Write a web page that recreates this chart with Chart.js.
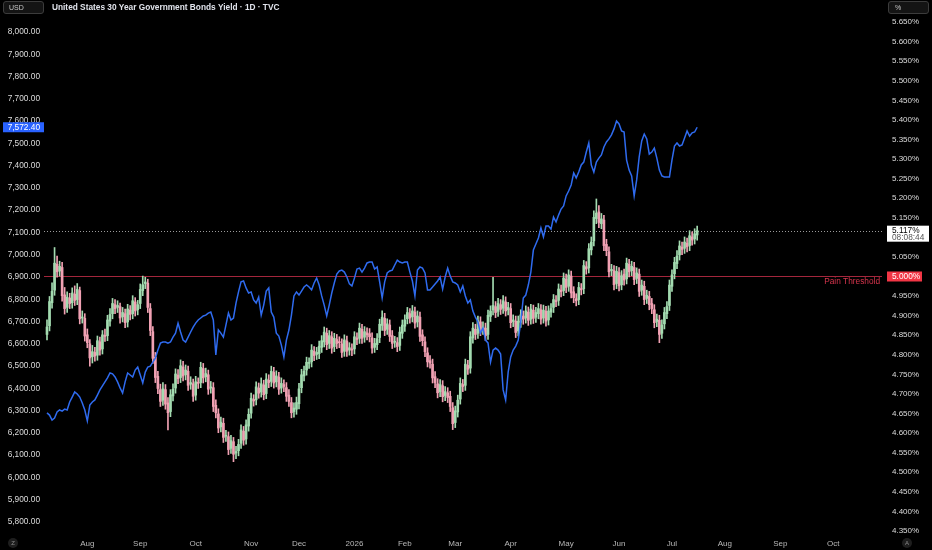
<!DOCTYPE html>
<html>
<head>
<meta charset="utf-8">
<script src="https://cdn.jsdelivr.net/npm/chart.js@4.4.1/dist/chart.umd.min.js"></script>
<style>
  html, body { margin: 0; padding: 0; background: #000; }
  #wrap { position: relative; width: 932px; height: 550px; }
  canvas { display: block; }
</style>
</head>
<body>
<div id="wrap"><canvas id="chart" width="932" height="550"></canvas></div>
<script>
// 30Y yield, daily candles (right axis, %)
const opens = [
  4.852, 4.874, 4.933, 4.965, 5.031, 5.014, 5.023, 4.953, 4.921, 4.945,
  4.933, 4.955, 4.941, 4.964, 4.894, 4.893, 4.851, 4.828, 4.795, 4.806,
  4.799, 4.833, 4.815, 4.849, 4.849, 4.886, 4.905, 4.928, 4.921, 4.923,
  4.897, 4.905, 4.884, 4.914, 4.905, 4.935, 4.915, 4.931, 4.964, 4.982,
  4.983, 4.918, 4.859, 4.794, 4.745, 4.711, 4.684, 4.711, 4.677, 4.655,
  4.695, 4.715, 4.748, 4.742, 4.769, 4.749, 4.758, 4.725, 4.726, 4.697,
  4.728, 4.729, 4.765, 4.744, 4.749, 4.715, 4.716, 4.671, 4.649, 4.616,
  4.625, 4.592, 4.591, 4.561, 4.578, 4.549, 4.555, 4.574, 4.605, 4.585,
  4.618, 4.651, 4.686, 4.685, 4.715, 4.705, 4.723, 4.701, 4.735, 4.732,
  4.755, 4.731, 4.743, 4.715, 4.724, 4.716, 4.697, 4.678, 4.655, 4.661,
  4.675, 4.716, 4.746, 4.761, 4.778, 4.782, 4.809, 4.801, 4.803, 4.819,
  4.833, 4.855, 4.829, 4.846, 4.821, 4.839, 4.832, 4.828, 4.809, 4.835,
  4.812, 4.815, 4.815, 4.843, 4.842, 4.865, 4.845, 4.856, 4.854, 4.843,
  4.819, 4.826, 4.844, 4.875, 4.893, 4.865, 4.876, 4.849, 4.832, 4.831,
  4.824, 4.855, 4.873, 4.892, 4.905, 4.897, 4.909, 4.884, 4.896, 4.851,
  4.833, 4.805, 4.785, 4.776, 4.744, 4.726, 4.706, 4.721, 4.696, 4.703,
  4.694, 4.665, 4.627, 4.654, 4.687, 4.724, 4.722, 4.773, 4.766, 4.843,
  4.865, 4.855, 4.884, 4.865, 4.868, 4.852, 4.898, 4.915, 4.923, 4.911,
  4.928, 4.919, 4.935, 4.915, 4.918, 4.885, 4.886, 4.861, 4.883, 4.899,
  4.894, 4.909, 4.891, 4.914, 4.896, 4.905, 4.915, 4.894, 4.911, 4.889,
  4.909, 4.921, 4.938, 4.939, 4.965, 4.964, 4.993, 4.975, 5.001, 4.961,
  4.943, 4.941, 4.969, 4.969, 5.025, 5.022, 5.068, 5.091, 5.148, 5.165,
  5.135, 5.144, 5.082, 5.063, 5.015, 5.015, 4.982, 5.010, 4.979, 5.006,
  4.994, 5.031, 5.015, 5.023, 4.995, 5.006, 4.965, 4.975, 4.944, 4.949,
  4.931, 4.915, 4.885, 4.888, 4.855, 4.879, 4.905, 4.926, 4.975, 5.007,
  5.033, 5.055, 5.075, 5.072, 5.085, 5.079, 5.101, 5.096, 5.106
];
const highs = [
  4.889, 4.949, 4.984, 5.074, 5.052, 5.039, 5.036, 4.972, 4.961, 4.957,
  4.971, 4.976, 4.982, 4.973, 4.912, 4.905, 4.866, 4.839, 4.824, 4.819,
  4.848, 4.845, 4.862, 4.866, 4.901, 4.918, 4.944, 4.941, 4.938, 4.932,
  4.921, 4.917, 4.929, 4.926, 4.951, 4.946, 4.939, 4.981, 5.001, 4.998,
  4.993, 4.931, 4.872, 4.806, 4.758, 4.725, 4.729, 4.724, 4.691, 4.711,
  4.726, 4.764, 4.762, 4.787, 4.783, 4.774, 4.771, 4.744, 4.738, 4.745,
  4.741, 4.781, 4.778, 4.766, 4.761, 4.732, 4.729, 4.685, 4.662, 4.641,
  4.638, 4.607, 4.603, 4.594, 4.589, 4.566, 4.584, 4.621, 4.617, 4.634,
  4.662, 4.702, 4.698, 4.731, 4.728, 4.741, 4.735, 4.752, 4.749, 4.771,
  4.768, 4.759, 4.755, 4.741, 4.736, 4.729, 4.711, 4.691, 4.677, 4.692,
  4.727, 4.763, 4.771, 4.794, 4.792, 4.826, 4.821, 4.819, 4.835, 4.849,
  4.871, 4.868, 4.862, 4.859, 4.855, 4.852, 4.846, 4.841, 4.851, 4.848,
  4.831, 4.828, 4.859, 4.856, 4.881, 4.878, 4.872, 4.869, 4.867, 4.856,
  4.842, 4.854, 4.891, 4.912, 4.906, 4.892, 4.889, 4.862, 4.847, 4.844,
  4.871, 4.889, 4.902, 4.921, 4.918, 4.926, 4.922, 4.912, 4.909, 4.864,
  4.846, 4.818, 4.798, 4.789, 4.757, 4.739, 4.737, 4.734, 4.719, 4.716,
  4.707, 4.678, 4.669, 4.697, 4.741, 4.737, 4.789, 4.786, 4.859, 4.882,
  4.878, 4.899, 4.897, 4.884, 4.881, 4.914, 4.925, 4.998, 4.936, 4.944,
  4.941, 4.951, 4.948, 4.934, 4.931, 4.902, 4.899, 4.899, 4.915, 4.912,
  4.925, 4.922, 4.929, 4.927, 4.921, 4.931, 4.928, 4.927, 4.924, 4.925,
  4.931, 4.954, 4.951, 4.981, 4.978, 5.009, 5.006, 5.017, 5.014, 4.974,
  4.956, 4.985, 4.982, 5.041, 5.038, 5.084, 5.101, 5.168, 5.198, 5.181,
  5.161, 5.156, 5.095, 5.076, 5.031, 5.028, 5.026, 5.023, 5.015, 5.019,
  5.047, 5.044, 5.039, 5.036, 5.022, 5.019, 4.991, 4.988, 4.965, 4.962,
  4.944, 4.928, 4.904, 4.901, 4.889, 4.921, 4.936, 4.991, 5.017, 5.049,
  5.066, 5.091, 5.088, 5.101, 5.098, 5.117, 5.114, 5.122, 5.129
];
const lows = [
  4.838, 4.861, 4.919, 4.952, 4.998, 5.001, 4.937, 4.904, 4.908, 4.918,
  4.919, 4.926, 4.928, 4.879, 4.881, 4.835, 4.818, 4.771, 4.779, 4.784,
  4.786, 4.799, 4.802, 4.834, 4.836, 4.873, 4.892, 4.905, 4.908, 4.881,
  4.884, 4.869, 4.871, 4.889, 4.892, 4.899, 4.902, 4.918, 4.951, 4.969,
  4.908, 4.849, 4.778, 4.729, 4.701, 4.668, 4.671, 4.661, 4.608, 4.642,
  4.682, 4.702, 4.726, 4.729, 4.733, 4.736, 4.709, 4.712, 4.681, 4.684,
  4.714, 4.716, 4.728, 4.731, 4.699, 4.702, 4.655, 4.639, 4.601, 4.603,
  4.576, 4.579, 4.545, 4.548, 4.527, 4.535, 4.542, 4.561, 4.569, 4.572,
  4.605, 4.638, 4.669, 4.672, 4.689, 4.692, 4.685, 4.688, 4.716, 4.719,
  4.715, 4.718, 4.699, 4.702, 4.706, 4.681, 4.668, 4.639, 4.641, 4.648,
  4.662, 4.703, 4.733, 4.748, 4.765, 4.769, 4.785, 4.788, 4.790, 4.806,
  4.820, 4.813, 4.816, 4.804, 4.808, 4.816, 4.818, 4.793, 4.796, 4.796,
  4.799, 4.798, 4.802, 4.826, 4.829, 4.829, 4.832, 4.838, 4.833, 4.804,
  4.806, 4.813, 4.831, 4.862, 4.849, 4.852, 4.834, 4.816, 4.819, 4.808,
  4.811, 4.842, 4.860, 4.879, 4.881, 4.884, 4.868, 4.871, 4.834, 4.823,
  4.795, 4.769, 4.766, 4.728, 4.716, 4.690, 4.693, 4.680, 4.683, 4.678,
  4.655, 4.609, 4.614, 4.641, 4.674, 4.706, 4.709, 4.750, 4.753, 4.830,
  4.839, 4.842, 4.849, 4.852, 4.836, 4.839, 4.885, 4.902, 4.895, 4.898,
  4.903, 4.906, 4.899, 4.902, 4.869, 4.872, 4.844, 4.848, 4.870, 4.878,
  4.881, 4.875, 4.878, 4.880, 4.883, 4.892, 4.878, 4.881, 4.873, 4.876,
  4.896, 4.908, 4.923, 4.926, 4.948, 4.951, 4.959, 4.962, 4.945, 4.933,
  4.925, 4.928, 4.953, 4.956, 5.006, 5.009, 5.055, 5.078, 5.135, 5.125,
  5.122, 5.066, 5.053, 4.999, 5.002, 4.966, 4.969, 4.963, 4.966, 4.978,
  4.981, 4.999, 5.002, 4.979, 4.982, 4.949, 4.952, 4.928, 4.931, 4.915,
  4.905, 4.869, 4.872, 4.831, 4.842, 4.866, 4.892, 4.913, 4.962, 4.994,
  5.020, 5.042, 5.056, 5.059, 5.063, 5.066, 5.080, 5.083, 5.093
];
const closes = [
  4.871, 4.936, 4.962, 5.034, 5.012, 5.026, 4.951, 4.918, 4.947, 4.931,
  4.958, 4.939, 4.967, 4.892, 4.896, 4.848, 4.831, 4.792, 4.808, 4.797,
  4.836, 4.812, 4.851, 4.847, 4.889, 4.903, 4.931, 4.918, 4.926, 4.894,
  4.908, 4.882, 4.917, 4.903, 4.938, 4.912, 4.928, 4.967, 4.979, 4.986,
  4.921, 4.862, 4.791, 4.742, 4.714, 4.681, 4.713, 4.674, 4.652, 4.698,
  4.712, 4.751, 4.739, 4.772, 4.746, 4.761, 4.722, 4.729, 4.694, 4.731,
  4.727, 4.768, 4.741, 4.752, 4.712, 4.718, 4.668, 4.652, 4.613, 4.628,
  4.589, 4.594, 4.558, 4.581, 4.546, 4.553, 4.571, 4.608, 4.582, 4.621,
  4.648, 4.689, 4.682, 4.718, 4.702, 4.726, 4.698, 4.738, 4.729, 4.758,
  4.728, 4.746, 4.712, 4.727, 4.719, 4.694, 4.681, 4.652, 4.664, 4.678,
  4.713, 4.749, 4.758, 4.781, 4.779, 4.812, 4.798, 4.806, 4.822, 4.836,
  4.858, 4.826, 4.849, 4.817, 4.842, 4.829, 4.831, 4.806, 4.838, 4.809,
  4.818, 4.812, 4.846, 4.839, 4.868, 4.842, 4.859, 4.851, 4.846, 4.817,
  4.829, 4.841, 4.878, 4.896, 4.862, 4.879, 4.847, 4.829, 4.834, 4.821,
  4.858, 4.876, 4.889, 4.908, 4.894, 4.912, 4.881, 4.899, 4.847, 4.836,
  4.808, 4.782, 4.779, 4.741, 4.729, 4.703, 4.724, 4.693, 4.706, 4.691,
  4.668, 4.624, 4.657, 4.684, 4.727, 4.719, 4.776, 4.763, 4.846, 4.868,
  4.852, 4.887, 4.862, 4.871, 4.849, 4.901, 4.912, 4.926, 4.908, 4.931,
  4.916, 4.938, 4.912, 4.921, 4.882, 4.889, 4.857, 4.886, 4.902, 4.891,
  4.912, 4.888, 4.917, 4.893, 4.908, 4.918, 4.891, 4.914, 4.886, 4.912,
  4.918, 4.941, 4.936, 4.968, 4.961, 4.996, 4.972, 5.004, 4.958, 4.946,
  4.938, 4.972, 4.966, 5.028, 5.019, 5.071, 5.088, 5.151, 5.162, 5.138,
  5.147, 5.079, 5.066, 5.012, 5.018, 4.979, 5.013, 4.976, 5.002, 4.991,
  5.034, 5.012, 5.026, 4.992, 5.009, 4.962, 4.978, 4.941, 4.952, 4.928,
  4.918, 4.882, 4.891, 4.852, 4.876, 4.908, 4.923, 4.978, 5.004, 5.036,
  5.052, 5.078, 5.069, 5.088, 5.076, 5.104, 5.093, 5.109, 5.117
];
// overlaid index, daily close (left axis)
const indexLine = [
  6290, 6280, 6258, 6267, 6294, 6303, 6298, 6307, 6303, 6339,
  6361, 6384, 6375, 6361, 6334, 6303, 6254, 6325, 6339, 6348,
  6370, 6393, 6411, 6429, 6447, 6469, 6465, 6451, 6429, 6402,
  6379, 6429, 6469, 6460, 6451, 6482, 6496, 6460, 6424, 6473,
  6496, 6500, 6518, 6536, 6572, 6603, 6608, 6608, 6603, 6608,
  6630, 6648, 6693, 6653, 6617, 6608, 6630, 6653, 6675, 6693,
  6707, 6716, 6725, 6729, 6738, 6743, 6707, 6550, 6662, 6648,
  6630, 6684, 6738, 6707, 6716, 6783, 6833, 6878, 6882, 6851,
  6828, 6833, 6797, 6783, 6810, 6729, 6774, 6837, 6851, 6743,
  6720, 6648, 6635, 6594, 6541, 6617, 6662, 6729, 6815, 6833,
  6819, 6837, 6855, 6864, 6855, 6842, 6873, 6895, 6864, 6815,
  6774, 6725, 6774, 6828, 6873, 6913, 6927, 6931, 6922, 6900,
  6869, 6860, 6895, 6936, 6940, 6922, 6940, 6963, 6967, 6967,
  6936, 6945, 6878, 6806, 6878, 6918, 6927, 6931, 6954, 6976,
  6967, 6963, 6967, 6967, 6922, 6882, 6815, 6931, 6945, 6940,
  6918, 6842, 6842, 6855, 6869, 6882, 6900, 6846, 6900, 6940,
  6904, 6878, 6873, 6864, 6833, 6860, 6815, 6783, 6797, 6747,
  6720, 6698, 6648, 6671, 6617, 6604, 6518, 6572, 6581, 6572,
  6554, 6393, 6348, 6473, 6541, 6572, 6590, 6617, 6698, 6806,
  6819, 6864, 6922, 7021, 7048, 7075, 7120, 7080, 7129, 7129,
  7115, 7169, 7147, 7178, 7205, 7219, 7264, 7286, 7313, 7367,
  7345, 7371, 7403, 7416, 7461, 7502, 7403, 7371, 7416, 7434,
  7448, 7484, 7506, 7520, 7538, 7565, 7600, 7587, 7556, 7551,
  7425, 7380, 7354, 7264, 7336, 7439, 7511, 7542, 7520, 7452,
  7461, 7479, 7434, 7380, 7354, 7349, 7349, 7349, 7425, 7488,
  7502, 7488, 7493, 7524, 7556, 7533, 7547, 7551, 7572.4
];

// time axis: bar index of the first session of each month
const monthTicks = [16, 37, 59, 81, 100, 122, 142, 162, 184, 206, 227, 248, 269, 291, 312];
const monthLabels = ['Aug', 'Sep', 'Oct', 'Nov', 'Dec', '2026', 'Feb', 'Mar', 'Apr', 'May', 'Jun', 'Jul', 'Aug', 'Sep', 'Oct'];
const leftTicks = [5800, 5900, 6000, 6100, 6200, 6300, 6400, 6500, 6600, 6700, 6800, 6900,
  7000, 7100, 7200, 7300, 7400, 7500, 7600, 7700, 7800, 7900, 8000];
const rightTicks = [4.35, 4.40, 4.45, 4.50, 4.55, 4.60, 4.65, 4.70, 4.75, 4.80, 4.85, 4.90,
  4.95, 5.00, 5.05, 5.10, 5.15, 5.20, 5.25, 5.30, 5.35, 5.40, 5.45, 5.50, 5.55, 5.60, 5.65];

const title = 'United States 30 Year Government Bonds Yield · 1D · TVC';
const painLevel = 5.0;
const painLabel = 'Pain Threshold';
const countdown = '08:08:44';

const UP = '#a3dbb0';
const DOWN = '#f1a1b3';
const BLUE = '#2f6bef';
const FONT = '"Liberation Sans", Arial, sans-serif';

const candleColors = closes.map((c, i) => (c >= opens[i] ? UP : DOWN));
const fmtLeft = v => v.toLocaleString('en-US', { minimumFractionDigits: 2, maximumFractionDigits: 2 });
const fmtRight = v => v.toFixed(3) + '%';

function roundRect(ctx, x, y, w, h, r) {
  ctx.beginPath();
  ctx.moveTo(x + r, y);
  ctx.arcTo(x + w, y, x + w, y + h, r);
  ctx.arcTo(x + w, y + h, x, y + h, r);
  ctx.arcTo(x, y + h, x, y, r);
  ctx.arcTo(x, y, x + w, y, r);
  ctx.closePath();
}

const overlay = {
  id: 'overlay',
  beforeDraw(chart) {
    const ctx = chart.ctx;
    ctx.save();
    ctx.fillStyle = '#000';
    ctx.fillRect(0, 0, chart.width, chart.height);
    ctx.restore();
  },
  beforeDatasetsDraw(chart) {
    const { ctx, chartArea: a, scales } = chart;
    const yR = scales.yR;
    ctx.save();
    // last price dotted line
    const yl = Math.round(yR.getPixelForValue(closes[closes.length - 1])) + 0.5;
    ctx.strokeStyle = '#9a9a9a';
    ctx.lineWidth = 1;
    ctx.setLineDash([1, 2]);
    ctx.beginPath(); ctx.moveTo(a.left, yl); ctx.lineTo(a.right, yl); ctx.stroke();
    ctx.setLineDash([]);
    // pain threshold
    const yp = Math.round(yR.getPixelForValue(painLevel)) + 0.5;
    ctx.strokeStyle = '#a3263c';
    ctx.beginPath(); ctx.moveTo(a.left, yp); ctx.lineTo(a.right - 2, yp); ctx.stroke();
    ctx.fillStyle = '#d7354d';
    ctx.font = '8.3px ' + FONT;
    ctx.textAlign = 'right';
    ctx.textBaseline = 'middle';
    ctx.fillText(painLabel, a.right - 4, yp + 5.5);
    ctx.restore();
  },
  afterDraw(chart) {
    const { ctx, scales } = chart;
    const yR = scales.yR, yL = scales.yL;
    ctx.save();
    ctx.textBaseline = 'middle';
    // title + scale buttons
    ctx.fillStyle = '#e0e3eb';
    ctx.font = 'bold 8.3px ' + FONT;
    ctx.textAlign = 'left';
    ctx.fillText(title, 52, 7.5);
    ctx.lineWidth = 1;
    ctx.fillStyle = '#141414';
    ctx.strokeStyle = '#3c3c3c';
    roundRect(ctx, 3.5, 1.5, 40, 12, 2.5); ctx.fill(); ctx.stroke();
    roundRect(ctx, 888.5, 1.5, 40, 12, 2.5); ctx.fill(); ctx.stroke();
    ctx.fillStyle = '#c8c8c8';
    ctx.font = '7px ' + FONT;
    ctx.fillText('USD', 9, 8);
    ctx.fillText('%', 895, 8);
    // left last-value badge
    const lastIdx = indexLine[indexLine.length - 1];
    const yb = yL.getPixelForValue(lastIdx);
    ctx.fillStyle = '#2962ff';
    ctx.fillRect(3, yb - 5, 41, 10);
    ctx.fillStyle = '#fff';
    ctx.font = '8.3px ' + FONT;
    ctx.textAlign = 'right';
    ctx.fillText(fmtLeft(lastIdx), 40, yb + 0.5);
    // right last-price badge
    const lastY = closes[closes.length - 1];
    const yl = yR.getPixelForValue(lastY);
    ctx.fillStyle = '#ffffff';
    ctx.fillRect(887, yl - 5, 42, 16);
    ctx.textAlign = 'left';
    ctx.fillStyle = '#000';
    ctx.fillText(fmtRight(lastY), 892, yl);
    ctx.fillStyle = '#555';
    ctx.fillText(countdown, 892, yl + 7);
    // pain badge
    const yp = yR.getPixelForValue(painLevel);
    ctx.fillStyle = '#f23645';
    ctx.fillRect(887, yp - 5, 35, 10);
    ctx.fillStyle = '#fff';
    ctx.fillText(fmtRight(painLevel), 892, yp + 0.5);
    // bottom corner buttons
    ctx.textAlign = 'center';
    ctx.font = '6px ' + FONT;
    [[13, 'Z'], [907, 'A']].forEach(([x, t]) => {
      ctx.fillStyle = '#1e1e1e';
      ctx.beginPath(); ctx.arc(x, 543, 5, 0, Math.PI * 2); ctx.fill();
      ctx.fillStyle = '#8a8a8a';
      ctx.fillText(t, x, 543.5);
    });
    ctx.restore();
  }
};

const ctx = document.getElementById('chart').getContext('2d');
new Chart(ctx, {
  type: 'bar',
  data: {
    datasets: [
      {
        type: 'line',
        data: indexLine.map((v, i) => ({ x: i, y: v })),
        yAxisID: 'yL',
        borderColor: BLUE,
        borderWidth: 1.5,
        pointRadius: 0,
        tension: 0,
        order: 0
      },
      {
        data: closes.map((c, i) => ({ x: i, y: [opens[i], c] })),
        yAxisID: 'yR',
        backgroundColor: candleColors,
        barThickness: 2,
        minBarLength: 1,
        grouped: false,
        order: 1
      },
      {
        data: highs.map((h, i) => ({ x: i, y: [lows[i], h] })),
        yAxisID: 'yR',
        backgroundColor: candleColors,
        barThickness: 1,
        grouped: false,
        order: 2
      }
    ]
  },
  options: {
    responsive: false,
    devicePixelRatio: 1,
    animation: false,
    layout: { padding: 0 },
    plugins: { legend: { display: false }, tooltip: { enabled: false } },
    scales: {
      x: {
        type: 'linear',
        offset: false,
        min: -1.19,
        max: 332.14,
        grid: { display: false, drawTicks: false },
        border: { display: false },
        afterBuildTicks: s => { s.ticks = monthTicks.map(v => ({ value: v })); },
        afterFit: s => { s.height = 18; s.paddingLeft = 0; s.paddingRight = 0; },
        ticks: {
          autoSkip: false,
          maxRotation: 0,
          padding: 7,
          color: '#b8b8b8',
          font: { family: FONT, size: 8 },
          callback: v => monthLabels[monthTicks.indexOf(v)]
        }
      },
      yL: {
        position: 'left',
        min: 5755.1,
        max: 8143.7,
        grid: { display: false, drawTicks: false },
        border: { display: false },
        afterBuildTicks: s => { s.ticks = leftTicks.map(v => ({ value: v })); },
        afterFit: s => { s.width = 44; s.paddingTop = 0; s.paddingBottom = 0; },
        ticks: {
          padding: 4,
          color: '#dcdcdc',
          font: { family: FONT, size: 8.3 },
          callback: v => fmtLeft(v)
        }
      },
      yR: {
        position: 'right',
        min: 4.3474,
        max: 5.7062,
        grid: { display: false, drawTicks: false },
        border: { display: false },
        afterBuildTicks: s => { s.ticks = rightTicks.map(v => ({ value: v })); },
        afterFit: s => { s.width = 48; s.paddingTop = 0; s.paddingBottom = 0; },
        ticks: {
          padding: 8,
          color: '#dcdcdc',
          font: { family: FONT, size: 8 },
          callback: v => fmtRight(v)
        }
      }
    }
  },
  plugins: [overlay]
});
</script>
</body>
</html>
